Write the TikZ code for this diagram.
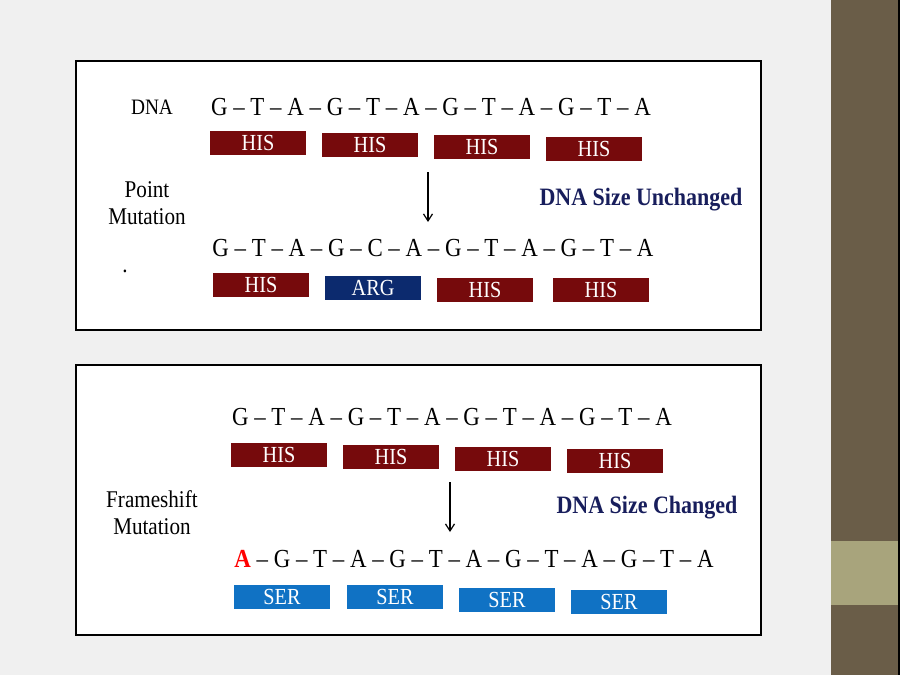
\documentclass[tikz,border=0pt]{standalone}
\usepackage{fontspec}
\usetikzlibrary{arrows.meta}
\setmainfont[FakeStretch=0.88]{Liberation Serif}
\definecolor{hisred}{RGB}{118,10,12}
\definecolor{argblue}{RGB}{12,42,110}
\definecolor{serblue}{RGB}{16,114,196}
\definecolor{sizenavy}{RGB}{24,30,92}
\definecolor{sidebrown}{RGB}{106,93,72}
\definecolor{sideband}{RGB}{168,164,124}
\definecolor{pagegray}{RGB}{240,240,240}

\begin{document}
\begin{tikzpicture}[x=1pt, y=-1pt, >={Straight Barb[length=7pt,width=9pt]},
  frame/.style={draw=black, line width=1.6pt, fill=white},
  aminobox/.style={minimum width=96pt, minimum height=24pt, inner sep=0pt,
    text=white, font=\fontsize{23}{23}\selectfont},
  his/.style={aminobox, fill=hisred},
  arg/.style={aminobox, fill=argblue},
  ser/.style={aminobox, fill=serblue},
  seq/.style={font=\fontsize{26}{26}\selectfont, inner sep=0pt},
  side/.style={font=\fontsize{24}{27}\selectfont, align=center, inner sep=0pt},
  size/.style={font=\bfseries\fontsize{25}{25}\selectfont, text=sizenavy, inner sep=0pt}]
  \useasboundingbox (0,0) rectangle (900,675);
  \fill[pagegray] (0,0) rectangle (900,675);
  % side bar
  \fill[sidebrown] (831,0) rectangle (898,675);
  \fill[sideband] (831,541) rectangle (898,605);
  \fill[black] (898,0) rectangle (900,675);

  % point mutation
  \draw[frame] (76,61) rectangle (761,330);
  \node[side, font=\fontsize{22}{22}\selectfont] (dna) at (152,107) {DNA};
  \node[side] (point) at (147,203) {Point\\Mutation};
  \node[side] (dot) at (125,271) {.};
  \node[seq] (seqA) at (431,107) {G – T – A – G – T – A – G – T – A – G – T – A};
  \node[his] (a1) at (258,143) {HIS};
  \node[his] (a2) at (370,145) {HIS};
  \node[his] (a3) at (482,147) {HIS};
  \node[his] (a4) at (594,149) {HIS};
  \node[seq] (seqB) at (433,248) {G – T – A – G – C – A – G – T – A – G – T – A};
  \node[his] (b1) at (261,285) {HIS};
  \node[arg] (b2) at (373,288) {ARG};
  \node[his] (b3) at (485,290) {HIS};
  \node[his] (b4) at (601,290) {HIS};
  \coordinate (topA) at (428,172);
  \coordinate (topB) at (428,222);
  \draw[->, line width=1.2pt] (topA) -- (topB);
  \node[size] (same) at (641,200) {DNA Size Unchanged};

  % frameshift mutation
  \draw[frame] (76,365) rectangle (761,635);
  \node[side] (frame) at (152,513) {Frameshift\\Mutation};
  \node[seq] (seqC) at (452,417) {G – T – A – G – T – A – G – T – A – G – T – A};
  \node[his] (c1) at (279,455) {HIS};
  \node[his] (c2) at (391,457) {HIS};
  \node[his] (c3) at (503,459) {HIS};
  \node[his] (c4) at (615,461) {HIS};
  \node[seq] (seqD) at (474,559) {\textcolor{red}{\bfseries A} – G – T – A – G – T – A – G – T – A – G – T – A};
  \node[ser] (d1) at (282,597) {SER};
  \node[ser] (d2) at (395,597) {SER};
  \node[ser] (d3) at (507,600) {SER};
  \node[ser] (d4) at (619,602) {SER};
  \coordinate (botA) at (450,482);
  \coordinate (botB) at (450,532);
  \draw[->, line width=1.2pt] (botA) -- (botB);
  \node[size] (changed) at (647,508) {DNA Size Changed};
\end{tikzpicture}
\end{document}
